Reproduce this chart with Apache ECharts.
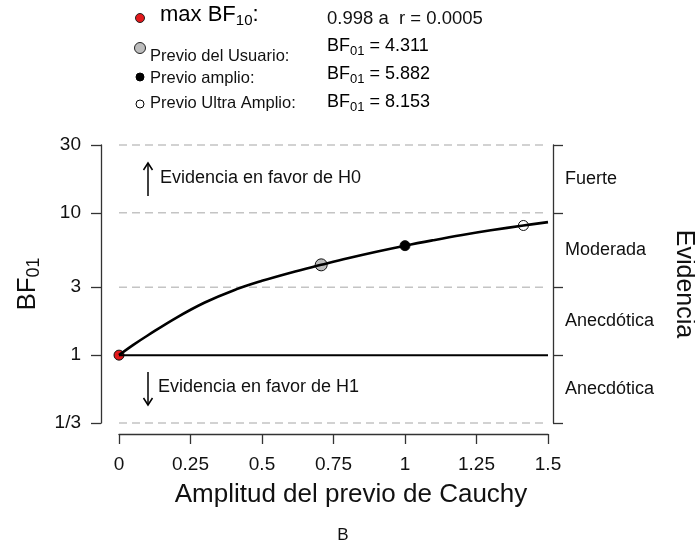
<!DOCTYPE html>
<html>
<head>
<meta charset="utf-8">
<title>BF robustness</title>
<script src="https://cdn.jsdelivr.net/npm/echarts@6/dist/echarts.min.js"></script>
<style>
  html, body { margin: 0; padding: 0; background: #fff; }
  #main { width: 695px; height: 546px; }
</style>
</head>
<body>
<div id="main"></div>
<script>
// curva del BF01 segun la amplitud del previo de Cauchy
var amplitud = [0, 0.05, 0.1, 0.2, 0.3, 0.4, 0.5, 0.6, 0.707, 0.8, 0.9, 1.0, 1.1, 1.2, 1.3, 1.414, 1.5];
var bf01 = [1, 1.18, 1.374, 1.83, 2.344, 2.85, 3.327, 3.80, 4.311, 4.797, 5.333, 5.882, 6.43, 6.99, 7.54, 8.153, 8.61];

// puntos destacados: [amplitud, BF01]
var ptMax = [0, 1];
var ptUsuario = [0.707, 4.311];
var ptAmplio = [1, 5.882];
var ptUltra = [1.414, 8.153];

var yTicks = [1/3, 1, 3, 10, 30];
var yTickText = ['1/3', '1', '3', '10', '30'];
var lineasGuia = [1/3, 3, 10, 30];
var nivelesEvidencia = ['Anecdótica', 'Anecdótica', 'Moderada', 'Fuerte'];
var xRango = [0, 1.5];

var FONT = '"Liberation Sans", Arial, sans-serif';
var TXT = '#111';

// etiquetas de evidencia en el centro (log) de cada banda
var midEvid = [];
for (var i = 0; i < yTicks.length - 1; i++) {
    midEvid.push(Math.sqrt(yTicks[i] * yTicks[i + 1]));
}

function tickText(v) {
    for (var i = 0; i < yTicks.length; i++) {
        if (Math.abs(v - yTicks[i]) < 1e-6 * yTicks[i] + 1e-9) return yTickText[i];
    }
    return '';
}
function evidText(v) {
    for (var i = 0; i < midEvid.length; i++) {
        if (Math.abs(v - midEvid[i]) < 1e-3) return nivelesEvidencia[i];
    }
    return '';
}

var richBF = {
    b: { fontSize: 18, fontFamily: FONT, color: TXT },
    s: { fontSize: 13, fontFamily: FONT, color: TXT, padding: [10, 0, 0, 0] }
};

var myChart = echarts.init(document.getElementById('main'), null, { renderer: 'canvas' });

var series = [];
// lineas guia discontinuas
lineasGuia.forEach(function (v) {
    series.push({
        type: 'line', xAxisIndex: 1, yAxisIndex: 2, symbol: 'none', silent: true, clip: false,
        lineStyle: { color: '#c4c4c4', type: [8, 5], width: 1.5 },
        data: [[xRango[0], v], [xRango[1], v]]
    });
});
// BF01 = 1
series.push({
    type: 'line', xAxisIndex: 1, yAxisIndex: 2, symbol: 'none', silent: true,
    lineStyle: { color: '#000', width: 2 },
    data: [[xRango[0], 1], [xRango[1], 1]]
});
series.push({
    type: 'line', xAxisIndex: 1, yAxisIndex: 2, symbol: 'none', smooth: 0.4, silent: true,
    lineStyle: { color: '#000', width: 2.6 },
    data: amplitud.map(function (x, i) { return [x, bf01[i]]; })
});
function punto(p, size, fill) {
    return {
        type: 'scatter', xAxisIndex: 1, yAxisIndex: 2, symbolSize: size, silent: true,
        itemStyle: { color: fill, borderColor: '#111', borderWidth: 1, opacity: 1 },
        data: [p]
    };
}
series.push(punto(ptUsuario, 12, '#bdbdbd'));
series.push(punto(ptAmplio, 10, '#000'));
series.push(punto(ptUltra, 10, '#fff'));
series.push(punto(ptMax, 10, '#e3191c'));

var option = {
    backgroundColor: '#fff',
    animation: false,
    grid: [
        { left: 101, right: 142, top: 145, bottom: 123, outerBoundsMode: 'none', containLabel: false },
        { left: 119, right: 147, top: 145, bottom: 123, outerBoundsMode: 'none', containLabel: false }
    ],
    xAxis: [
        { gridIndex: 0, type: 'value', min: 0, max: 1, show: false },
        {
            gridIndex: 1, type: 'value', min: xRango[0], max: xRango[1], interval: 0.25,
            position: 'bottom', offset: 11,
            axisLine: { show: true, lineStyle: { color: '#333', width: 1.3 } },
            axisTick: { show: true, inside: false, length: 10, lineStyle: { color: '#333', width: 1.3 } },
            axisLabel: { margin: 21, fontSize: 19, fontFamily: FONT, color: TXT, showMinLabel: true, showMaxLabel: true },
            splitLine: { show: false }
        }
    ],
    yAxis: [
        {
            gridIndex: 0, type: 'log', min: 1/3, max: 30, position: 'left',
            axisLine: { show: true, lineStyle: { color: '#333', width: 1.3 } },
            axisTick: { show: true, length: 10, customValues: yTicks, lineStyle: { color: '#333', width: 1.3 } },
            axisLabel: { customValues: yTicks, margin: 20, fontSize: 19, fontFamily: FONT, color: TXT, formatter: tickText },
            splitLine: { show: false },
            name: '{b|BF}{s|01}',
            nameLocation: 'middle', nameRotate: 90, nameGap: 58,
            nameTextStyle: {
                rich: {
                    b: { fontSize: 26, fontFamily: FONT, color: TXT },
                    s: { fontSize: 18, fontFamily: FONT, color: TXT, padding: [12, 0, 0, 0] }
                }
            }
        },
        {
            gridIndex: 0, type: 'log', min: 1/3, max: 30, position: 'right',
            axisLine: { show: true, lineStyle: { color: '#333', width: 1.3 } },
            axisTick: { show: true, length: 10, customValues: yTicks, lineStyle: { color: '#333', width: 1.3 } },
            axisLabel: { customValues: midEvid, margin: 12, fontSize: 18, fontFamily: FONT, color: TXT, formatter: evidText },
            splitLine: { show: false },
            name: 'Evidencia',
            nameLocation: 'middle', nameRotate: -90, nameGap: 118,
            nameTextStyle: { fontSize: 25, fontFamily: FONT, color: TXT }
        },
        { gridIndex: 1, type: 'log', min: 1/3, max: 30, show: false }
    ],
    series: series,
    graphic: [
        // leyenda superior
        { type: 'circle', shape: { cx: 140, cy: 18, r: 4.5 }, style: { fill: '#e3191c', stroke: '#222', lineWidth: 1 } },
        { type: 'circle', shape: { cx: 140, cy: 48, r: 5.5 }, style: { fill: '#bdbdbd', stroke: '#222', lineWidth: 1 } },
        { type: 'circle', shape: { cx: 140, cy: 77, r: 4 }, style: { fill: '#000', stroke: '#000', lineWidth: 1 } },
        { type: 'circle', shape: { cx: 140, cy: 104, r: 4 }, style: { fill: '#fff', stroke: '#000', lineWidth: 1 } },
        { type: 'text', left: 160, top: 4, style: {
            text: '{b|max BF}{s|10}{b|:}', rich: {
                b: { fontSize: 22, fontFamily: FONT, color: TXT },
                s: { fontSize: 15, fontFamily: FONT, color: TXT, padding: [11, 0, 0, 0] }
            } } },
        { type: 'text', left: 327, top: 9, style: { text: '0.998 a  r = 0.0005', fontSize: 18.5, fontFamily: FONT, fill: TXT } },
        { type: 'text', left: 150, top: 48, style: { text: 'Previo del Usuario:', fontSize: 16.5, fontFamily: FONT, fill: TXT } },
        { type: 'text', left: 150, top: 70, style: { text: 'Previo amplio:', fontSize: 16.5, fontFamily: FONT, fill: TXT } },
        { type: 'text', left: 150, top: 95, style: { text: 'Previo Ultra Amplio:', fontSize: 16.5, fontFamily: FONT, fill: TXT } },
        { type: 'text', left: 327, top: 37, style: { text: '{b|BF}{s|01}{b| = 4.311}', rich: richBF } },
        { type: 'text', left: 327, top: 65, style: { text: '{b|BF}{s|01}{b| = 5.882}', rich: richBF } },
        { type: 'text', left: 327, top: 93, style: { text: '{b|BF}{s|01}{b| = 8.153}', rich: richBF } },
        // flechas de evidencia
        { type: 'polyline', shape: { points: [[148, 196], [148, 163]] }, style: { stroke: '#000', lineWidth: 1.5 } },
        { type: 'polyline', shape: { points: [[143.5, 170], [148, 163], [152.5, 170]] }, style: { stroke: '#000', lineWidth: 1.5, fill: null } },
        { type: 'text', left: 160, top: 169, style: { text: 'Evidencia en favor de H0', fontSize: 18, fontFamily: FONT, fill: TXT } },
        { type: 'polyline', shape: { points: [[148, 372], [148, 405]] }, style: { stroke: '#000', lineWidth: 1.5 } },
        { type: 'polyline', shape: { points: [[143.5, 398], [148, 405], [152.5, 398]] }, style: { stroke: '#000', lineWidth: 1.5, fill: null } },
        { type: 'text', left: 158, top: 378, style: { text: 'Evidencia en favor de H1', fontSize: 18, fontFamily: FONT, fill: TXT } },
        // titulo del eje x y etiqueta del panel
        { type: 'text', x: 351, y: 495, style: { text: 'Amplitud del previo de Cauchy', fontSize: 26, fontFamily: FONT, fill: TXT, align: 'center', verticalAlign: 'middle' } },
        { type: 'text', x: 343, y: 535, style: { text: 'B', fontSize: 17, fontFamily: FONT, fill: TXT, align: 'center', verticalAlign: 'middle' } }
    ]
};

myChart.setOption(option);
</script>
</body>
</html>
